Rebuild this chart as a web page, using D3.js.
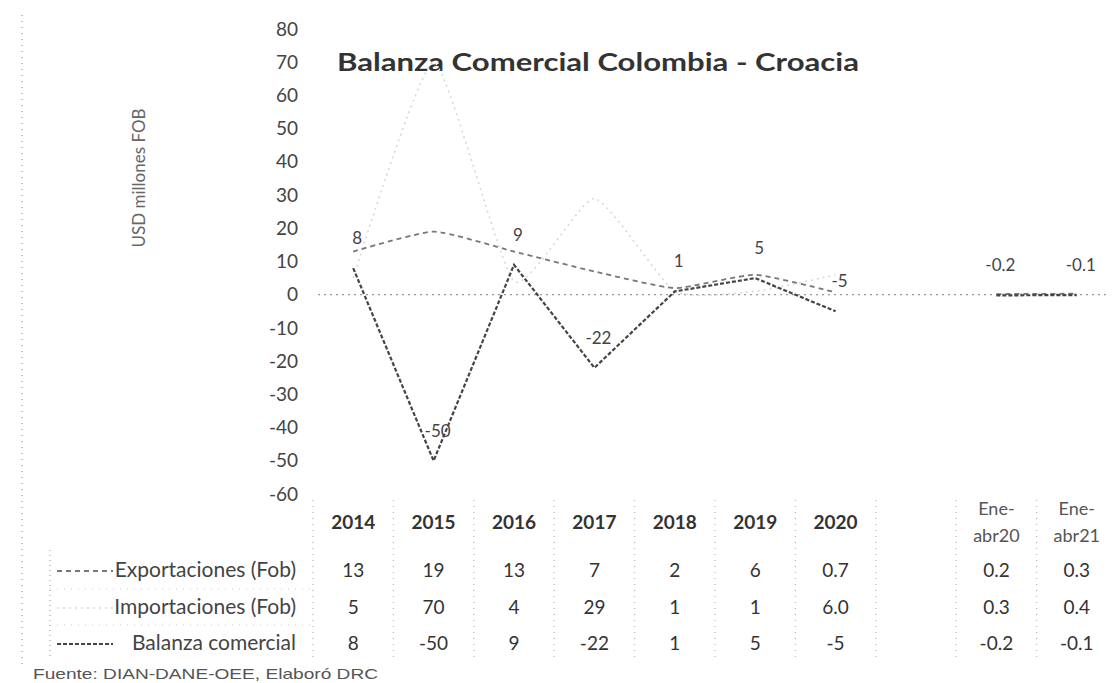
<!DOCTYPE html>
<html>
<head>
<meta charset="utf-8">
<script src="https://cdn.jsdelivr.net/npm/d3@7"></script>
<style>
  body { margin: 0; background: #fff; }
  svg { font-family: Lato, "Open Sans", sans-serif; }
</style>
</head>
<body>
<svg id="chart" width="1114" height="683"></svg>
<script>
// categorias (la columna "gap" queda vacia, como en el original)
var keys = ["2014", "2015", "2016", "2017", "2018", "2019", "2020", "gap", "Ene-abr20", "Ene-abr21"];
var headerLines = [["2014"], ["2015"], ["2016"], ["2017"], ["2018"], ["2019"], ["2020"], [], ["Ene-", "abr20"], ["Ene-", "abr21"]];

var exportaciones = [13, 19, 13, 7, 2, 6, 0.7, null, 0.2, 0.3];
var importaciones = [5, 70, 4, 29, 1, 1, 6.0, null, 0.3, 0.4];
var balanza = [8, -50, 9, -22, 1, 5, -5, null, -0.2, -0.1];

var exportText = ["13", "19", "13", "7", "2", "6", "0.7", "", "0.2", "0.3"];
var importText = ["5", "70", "4", "29", "1", "1", "6.0", "", "0.3", "0.4"];
var balanzaText = ["8", "-50", "9", "-22", "1", "5", "-5", "", "-0.2", "-0.1"];

var yTicks = [80, 70, 60, 50, 40, 30, 20, 10, 0, -10, -20, -30, -40, -50, -60];

var svg = d3.select("#chart");

var xScale = d3.scaleBand()
  .domain(keys)
  .range([313, 1117])
  .padding(0);

var yScale = d3.scaleLinear()
  .domain([-60, 80])
  .range([494, 29]);

function cx(k) { return xScale(k) + xScale.bandwidth() / 2; }

// borde izquierdo punteado (escaneo)
svg.append("line")
  .attr("x1", 22).attr("x2", 22).attr("y1", 15).attr("y2", 665)
  .attr("stroke", "#aaa").attr("stroke-width", 1.5).attr("stroke-dasharray", "1,5");

// titulo
svg.append("text")
  .attr("x", 337).attr("y", 71)
  .attr("font-size", 24).attr("font-weight", "bold")
  .attr("fill", "#333")
  .attr("textLength", 522).attr("lengthAdjust", "spacingAndGlyphs")
  .text("Balanza Comercial Colombia - Croacia");

// titulo eje y
svg.append("text")
  .attr("transform", "translate(145,178) rotate(-90)")
  .attr("text-anchor", "middle")
  .attr("font-size", 17)
  .attr("fill", "#666")
  .text("USD millones FOB");

// eje y (guion normal, como en el original)
var axisY = svg.append("g")
  .attr("transform", "translate(298,0)")
  .call(d3.axisLeft(yScale).tickValues(yTicks).tickSize(0).tickPadding(0)
    .tickFormat(function(d) { return String(d); }));
axisY.select(".domain").remove();
axisY.selectAll("text")
  .attr("font-family", "Lato, sans-serif")
  .attr("font-size", 19)
  .attr("fill", "#444");

// linea de cero
svg.append("line")
  .attr("x1", 318).attr("x2", 1110)
  .attr("y1", yScale(0)).attr("y2", yScale(0))
  .attr("stroke", "#999").attr("stroke-width", 1.2).attr("stroke-dasharray", "2,4");

function makeLine(values, curve) {
  return d3.line()
    .defined(function(d) { return d != null; })
    .x(function(d, i) { return cx(keys[i]); })
    .y(function(d) { return yScale(d); })
    .curve(curve)(values);
}

var series = [
  {name: "Importaciones (Fob)", values: importaciones, color: "#d6d6d6", width: 1.5, dash: "2,4", curve: d3.curveCardinal.tension(0.5)},
  {name: "Exportaciones (Fob)", values: exportaciones, color: "#777", width: 1.8, dash: "5,4", curve: d3.curveCardinal.tension(0.5)},
  {name: "Balanza comercial", values: balanza, color: "#444", width: 2.2, dash: "4,2", curve: d3.curveLinear}
];

svg.selectAll(".serie")
  .data(series)
  .enter()
  .append("path")
    .attr("class", "serie")
    .attr("d", function(s) { return makeLine(s.values, s.curve); })
    .attr("fill", "none")
    .attr("stroke", function(s) { return s.color; })
    .attr("stroke-width", function(s) { return s.width; })
    .attr("stroke-dasharray", function(s) { return s.dash; });

// etiquetas de la balanza
var labelData = balanza.map(function(v, i) { return {v: v, i: i}; })
  .filter(function(d) { return d.v != null; });

svg.selectAll(".etiqueta")
  .data(labelData)
  .enter()
  .append("text")
    .attr("class", "etiqueta")
    .attr("x", function(d) { return cx(keys[d.i]) + 4; })
    .attr("y", function(d) { return yScale(d.v) - 24; })
    .attr("text-anchor", "middle")
    .attr("font-size", 17)
    .attr("fill", "#444")
    .text(function(d) { return balanzaText[d.i]; });

// tabla de datos: separadores verticales
var sepX = keys.map(function(k) { return xScale(k); });
svg.selectAll(".sep")
  .data(sepX)
  .enter()
  .append("line")
    .attr("class", "sep")
    .attr("x1", function(d) { return d; }).attr("x2", function(d) { return d; })
    .attr("y1", 500).attr("y2", 662)
    .attr("stroke", "#bbb").attr("stroke-width", 1.3).attr("stroke-dasharray", "1,5");

svg.append("line")
  .attr("x1", 50).attr("x2", 50).attr("y1", 550).attr("y2", 660)
  .attr("stroke", "#aaa").attr("stroke-width", 1.3).attr("stroke-dasharray", "1,4");

[589, 625].forEach(function(yy) {
  svg.append("line")
    .attr("x1", 50).attr("x2", 313).attr("y1", yy).attr("y2", yy)
    .attr("stroke", "#ccc").attr("stroke-width", 1).attr("stroke-dasharray", "1,6");
});

// encabezados
var header = svg.append("g");
keys.forEach(function(k, i) {
  var lines = headerLines[i];
  var y0 = lines.length > 1 ? 515 : 529;
  lines.forEach(function(t, j) {
    header.append("text")
      .attr("x", cx(k)).attr("y", y0 + j * 27)
      .attr("text-anchor", "middle")
      .attr("font-size", lines.length > 1 ? 18 : 19)
      .attr("fill", lines.length > 1 ? "#555" : "#333")
      .attr("font-weight", lines.length > 1 ? "normal" : "bold")
      .text(t);
  });
});

// filas
var rows = [
  {label: "Exportaciones (Fob)", text: exportText, y: 577, serie: series[1]},
  {label: "Importaciones (Fob)", text: importText, y: 614, serie: series[0]},
  {label: "Balanza comercial", text: balanzaText, y: 650, serie: series[2]}
];

rows.forEach(function(r) {
  svg.append("line")
    .attr("x1", 57).attr("x2", 113).attr("y1", r.y - 6).attr("y2", r.y - 6)
    .attr("stroke", r.serie.color).attr("stroke-width", r.serie.width)
    .attr("stroke-dasharray", r.serie.dash);
  svg.append("text")
    .attr("x", 296).attr("y", r.y)
    .attr("text-anchor", "end")
    .attr("font-size", 21)
    .attr("fill", "#444")
    .text(r.label);
  r.text.forEach(function(t, i) {
    svg.append("text")
      .attr("x", cx(keys[i])).attr("y", r.y)
      .attr("text-anchor", "middle")
      .attr("font-size", 19)
      .attr("fill", "#333")
      .text(t);
  });
});

// fuente
svg.append("text")
  .attr("x", 33).attr("y", 679)
  .attr("font-family", "'Liberation Sans', Arial, sans-serif")
  .attr("font-size", 15)
  .attr("fill", "#555")
  .attr("textLength", 345).attr("lengthAdjust", "spacingAndGlyphs")
  .text("Fuente: DIAN-DANE-OEE, Elaboró DRC");
</script>
</body>
</html>
